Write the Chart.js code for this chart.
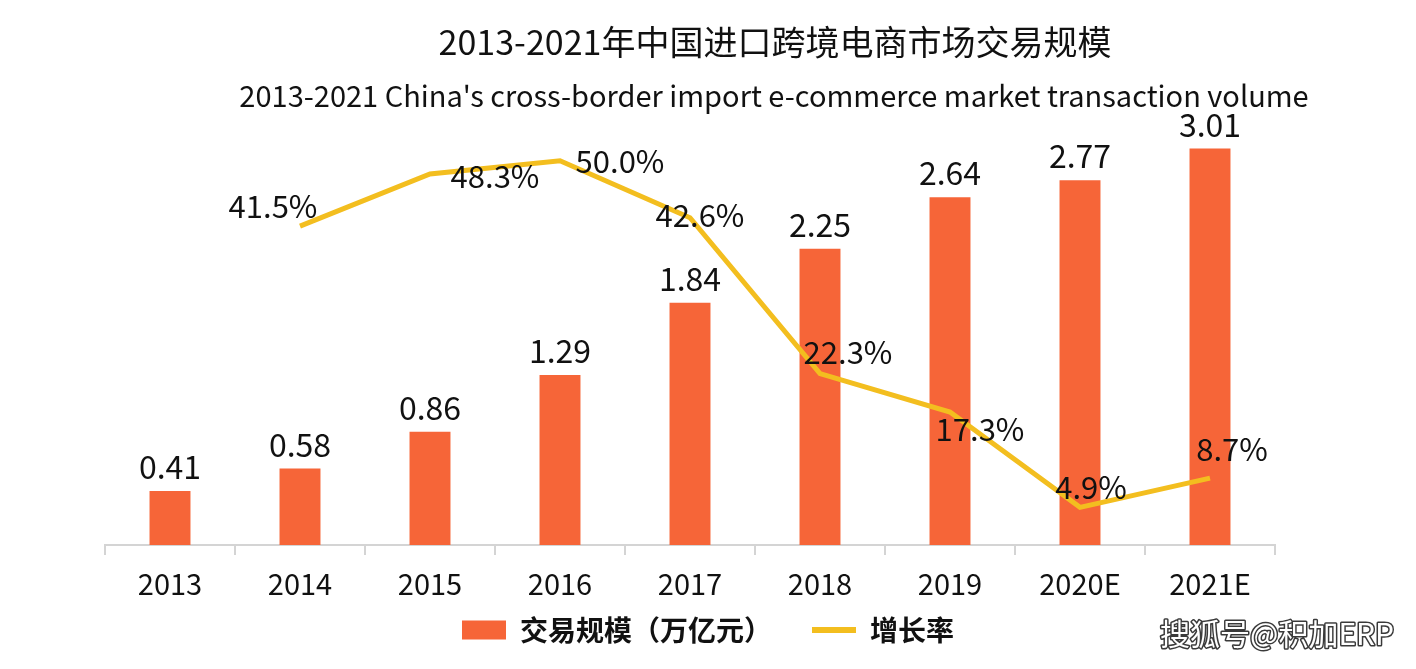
<!DOCTYPE html>
<html><head><meta charset="utf-8">
<script src="https://cdn.jsdelivr.net/npm/chart.js@4/dist/chart.umd.min.js"></script>
<style>html,body{margin:0;padding:0;background:#fff;overflow:hidden}#wrap{width:1416px;height:669px;position:relative}</style>
</head><body><div id="wrap"><canvas id="c" width="1416" height="669"></canvas></div>
<script>
const titleText = '2013-2021年中国进口跨境电商市场交易规模';
const subtitleText = "2013-2021 China's cross-border import e-commerce market transaction volume";
const categories = ['2013', '2014', '2015', '2016', '2017', '2018', '2019', '2020E', '2021E'];
const volumeLabel = '交易规模（万亿元）';
const volumeValues = [0.41, 0.58, 0.86, 1.29, 1.84, 2.25, 2.64, 2.77, 3.01];
const growthLabel = '增长率';
const growthValues = [null, 41.5, 48.3, 50.0, 42.6, 22.3, 17.3, 4.9, 8.7];
const watermarkText = '搜狐号@积加ERP';

const FONT = '"Noto Sans CJK SC", "Noto Sans", sans-serif';
const BAR_COLOR = '#F66538';
const LINE_COLOR = '#F3BE1F';

const headerPlugin = {
  id: 'header',
  afterDraw(chart, args, opts) {
    const ctx = chart.ctx;
    ctx.save();
    ctx.fillStyle = '#111';
    ctx.textAlign = 'center';
    ctx.textBaseline = 'middle';
    ctx.font = '34px ' + FONT;
    ctx.fillText(titleText, opts.titleX, opts.titleY);
    ctx.font = '29px ' + FONT;
    ctx.fillText(subtitleText, opts.subX, opts.subY);
    // watermark
    ctx.font = '30px ' + FONT;
    ctx.textAlign = 'left';
    ctx.lineJoin = 'round';
    ctx.lineWidth = 3;
    ctx.strokeStyle = '#3a3a3a';
    ctx.strokeText(watermarkText, opts.wmX, opts.wmY);
    ctx.fillStyle = '#fff';
    ctx.fillText(watermarkText, opts.wmX, opts.wmY);
    ctx.restore();
  }
};

const valueLabelPlugin = {
  id: 'valueLabels',
  afterDatasetsDraw(chart, args, opts) {
    const ctx = chart.ctx;
    ctx.save();
    ctx.fillStyle = '#111';
    ctx.textAlign = 'center';
    ctx.textBaseline = 'middle';
    const barMeta = chart.getDatasetMeta(0);
    ctx.font = '32px ' + FONT;
    barMeta.data.forEach((el, i) => {
      ctx.fillText(volumeValues[i].toFixed(2), el.x, el.y - opts.barGap);
    });
    const lineMeta = chart.getDatasetMeta(1);
    ctx.font = '31px ' + FONT;
    lineMeta.data.forEach((el, i) => {
      const v = growthValues[i];
      if (v === null) return;
      const off = opts.lineOffsets[i] || [0, -20];
      ctx.fillText(v.toFixed(1) + '%', el.x + off[0], el.y + off[1]);
    });
    ctx.restore();
  }
};

new Chart(document.getElementById('c'), {
  type: 'bar',
  data: {
    labels: categories,
    datasets: [
      {
        type: 'bar',
        label: volumeLabel,
        data: volumeValues,
        backgroundColor: BAR_COLOR,
        borderWidth: 0,
        categoryPercentage: 1,
        barPercentage: 0.315,
        yAxisID: 'y',
        order: 2
      },
      {
        type: 'line',
        label: growthLabel,
        data: growthValues,
        borderColor: LINE_COLOR,
        backgroundColor: LINE_COLOR,
        borderWidth: 5,
        pointRadius: 0,
        tension: 0,
        spanGaps: false,
        yAxisID: 'y1',
        order: 1
      }
    ]
  },
  options: {
    responsive: false,
    animation: false,
    devicePixelRatio: 1,
    layout: { padding: { top: 84, bottom: 15, left: 0, right: 0 } },
    scales: {
      x: {
        grid: { offset: true, drawOnChartArea: false, drawTicks: true, tickLength: 10, color: '#d4d4d4', lineWidth: 2 },
        border: { display: true, color: '#d4d4d4', width: 2 },
        ticks: { color: '#111', font: { family: FONT, size: 29 }, padding: -56, mirror: true },
        afterFit(s) { s.height = 31; }
      },
      y: {
        position: 'left', min: 0, max: 3.5,
        display: true,
        ticks: { display: false },
        grid: { display: false },
        border: { display: false },
        afterFit(s) { s.width = 105; }
      },
      y1: {
        position: 'right', min: 0, max: 60,
        display: true,
        ticks: { display: false },
        grid: { display: false },
        border: { display: false },
        afterFit(s) { s.width = 141; }
      }
    },
    plugins: {
      tooltip: { enabled: false },
      title: { display: false },
      legend: {
        display: true,
        position: 'bottom',
        labels: {
          usePointStyle: true,
          pointStyleWidth: 44,
          boxHeight: 19,
          padding: 40,
          color: '#111',
          font: { family: FONT, size: 28, weight: 'bold' },
          generateLabels(chart) {
            return [
              { text: volumeLabel, fillStyle: BAR_COLOR, strokeStyle: BAR_COLOR, lineWidth: 0, pointStyle: 'rect', datasetIndex: 0, fontColor: '#111' },
              { text: growthLabel, fillStyle: LINE_COLOR, strokeStyle: LINE_COLOR, lineWidth: 6, pointStyle: 'line', datasetIndex: 1, fontColor: '#111' }
            ];
          }
        }
      },
      header: { titleX: 775, titleY: 42, subX: 774, subY: 96, wmX: 1160, wmY: 634 },
      valueLabels: {
        barGap: 24,
        lineOffsets: [null, [-27, -20], [65, 2], [60, 0], [10, -2], [28, -21], [30, 17], [11, -20], [22, -29]]
      }
    }
  },
  plugins: [headerPlugin, valueLabelPlugin]
});
</script>
</body></html>
